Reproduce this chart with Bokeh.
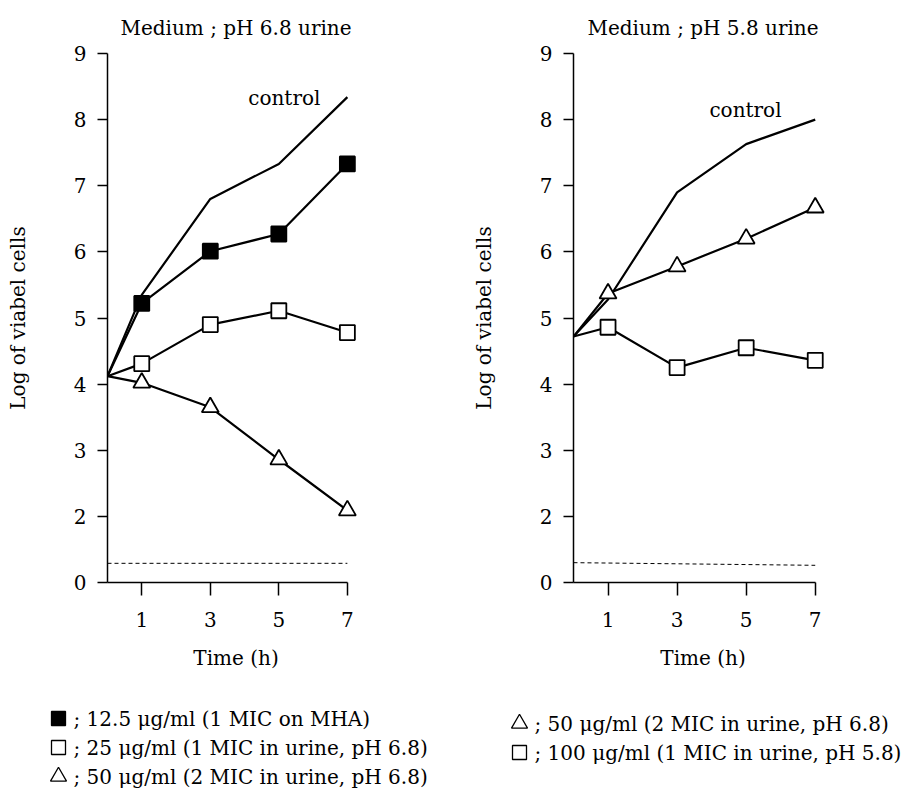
from bokeh.plotting import figure
from bokeh.layouts import row, column
from bokeh.models import Range1d, FixedTicker, Label
from bokeh.core.properties import value
from bokeh.embed import file_html
from bokeh.resources import INLINE

FONT = "DejaVu Serif"

# ---- data ----
time = [0, 1, 3, 5, 7]
y_ticks = [1, 2, 3, 4, 5, 6, 7, 8, 9]
y_tick_labels = {1: "0"}
x_ticks = [1, 3, 5, 7]
limit_x = [0, 7]

# left panel: pH 6.8 urine
control_68 = [4.12, 5.35, 6.80, 7.33, 8.34]
mha_12_5 = [4.12, 5.22, 6.01, 6.27, 7.33]
urine_25 = [4.12, 4.31, 4.90, 5.11, 4.78]
urine_50_68 = [4.12, 4.02, 3.65, 2.86, 2.09]
limit_68 = [1.29, 1.29]

# right panel: pH 5.8 urine
control_58 = [4.72, 5.28, 6.90, 7.63, 8.00]
urine_50_58 = [4.72, 5.37, 5.78, 6.20, 6.67]
urine_100 = [4.72, 4.86, 4.25, 4.55, 4.36]
limit_58 = [1.30, 1.26]

titles = ["Medium ; pH 6.8 urine", "Medium ; pH 5.8 urine"]
left_legend = ["; 12.5 μg/ml (1 MIC on MHA)",
               "; 25 μg/ml (1 MIC in urine, pH 6.8)",
               "; 50 μg/ml (2 MIC in urine, pH 6.8)"]
left_markers = ["square", "square", "triangle"]
left_fills = ["black", "white", "white"]
right_legend = ["; 50 μg/ml (2 MIC in urine, pH 6.8)",
                "; 100 μg/ml (1 MIC in urine, pH 5.8)"]
right_markers = ["triangle", "square"]
right_fills = ["white", "white"]

PLOT_H = 690
LEG_H = 101


def make_fig(width, height, bl, br, bt, bb, title):
    p = figure(width=width, height=height, output_backend="svg",
               toolbar_location=None, title=title,
               x_range=Range1d(0, 7.5), y_range=Range1d(1, 9),
               min_border_left=bl, min_border_right=br,
               min_border_top=bt, min_border_bottom=bb)
    p.outline_line_color = None
    p.xgrid.visible = False
    p.ygrid.visible = False
    p.background_fill_color = "white"
    p.border_fill_color = "white"
    p.title.text_font = FONT
    p.title.text_font_size = "20px"
    p.title.text_font_style = "normal"
    p.title.text_color = "black"
    p.title.align = "center"
    p.title.offset = 2
    p.title.standoff = 24
    p.title.vertical_align = "top"
    for ax in (p.xaxis[0], p.yaxis[0]):
        ax.axis_line_width = 1.5
        ax.axis_line_color = "black"
        ax.major_tick_line_width = 1.5
        ax.major_tick_line_color = "black"
        ax.minor_tick_line_color = None
        ax.major_tick_in = 0
        ax.major_label_text_font = FONT
        ax.major_label_text_font_size = "20px"
        ax.major_label_text_color = "black"
        ax.axis_label_text_font = FONT
        ax.axis_label_text_font_size = "20px"
        ax.axis_label_text_font_style = "normal"
        ax.axis_label_text_color = "black"
    p.xaxis.ticker = FixedTicker(ticks=x_ticks)
    p.xaxis.bounds = (0, 7)
    p.xaxis.major_tick_out = 13
    p.xaxis.major_label_standoff = 16
    p.xaxis.axis_label = "Time (h)"
    p.xaxis.axis_label_standoff = 16
    p.yaxis.ticker = FixedTicker(ticks=y_ticks)
    p.yaxis.major_label_overrides = y_tick_labels
    p.yaxis.bounds = (1, 9)
    p.yaxis.major_tick_out = 10
    p.yaxis.major_label_standoff = 11
    p.yaxis.axis_label = "Log of viabel cells"
    p.yaxis.axis_label_standoff = 41
    return p


def add_label(p, x, y, text):
    p.add_layout(Label(x=x, y=y, text=text, text_font=FONT,
                       text_font_size="20px", text_align="center",
                       text_baseline="middle", text_color="black"))


def series(p, ys, marker, fill):
    p.line(time, ys, line_color="black", line_width=2.2)
    p.scatter(time[1:], ys[1:], marker=marker, size=15 if marker == "square" else 17,
              fill_color=fill, line_color="black", line_width=1.8)


# ---- left figure ----
p1 = make_fig(458, PLOT_H, 107, 94, 52, PLOT_H - 582, titles[0])
p1.line(time, control_68, line_color="black", line_width=2.2)
series(p1, mha_12_5, "square", "black")
series(p1, urine_25, "square", "white")
series(p1, urine_50_68, "triangle", "white")
p1.line(limit_x, limit_68, line_color="black", line_width=1, line_dash="4 3")
add_label(p1, 5.16, 8.32, "control")

# ---- right figure ----
p2 = make_fig(454, PLOT_H, 115, 80, 53, PLOT_H - 585, titles[1])
p2.line(time, control_58, line_color="black", line_width=2.2)
series(p2, urine_50_58, "triangle", "white")
series(p2, urine_100, "square", "white")
p2.line(limit_x, limit_58, line_color="black", line_width=1, line_dash="4 3")
add_label(p2, 4.98, 8.14, "control")

# ---- legend strip (screen-like coordinates, y downward) ----
p3 = figure(width=912, height=LEG_H, output_backend="svg", toolbar_location=None,
            x_range=Range1d(0, 912), y_range=Range1d(LEG_H, 0),
            x_axis_type=None, y_axis_type=None,
            min_border_left=0, min_border_right=0, min_border_top=0, min_border_bottom=0)
p3.outline_line_color = None
p3.xgrid.visible = False
p3.ygrid.visible = False


def legend_block(x_sym, x_txt, y0, labels, markers, fills):
    ys = [y0 + 29 * i for i in range(len(labels))]
    for y, m, f in zip(ys, markers, fills):
        p3.scatter([x_sym], [y], marker=m, size=14 if m == "square" else 16,
                   fill_color=f, line_color="black", line_width=1.3)
    p3.text([x_txt] * len(labels), ys, text=labels, text_font=value(FONT),
            text_font_size=value("20px"), text_baseline="middle",
            text_align="left", text_color="black")


legend_block(58, 73, 28, left_legend, left_markers, left_fills)
legend_block(519, 534, 33, right_legend, right_markers, right_fills)

layout = column(row(p1, p2), p3)
open("out.html", "w").write(file_html(layout, INLINE))
